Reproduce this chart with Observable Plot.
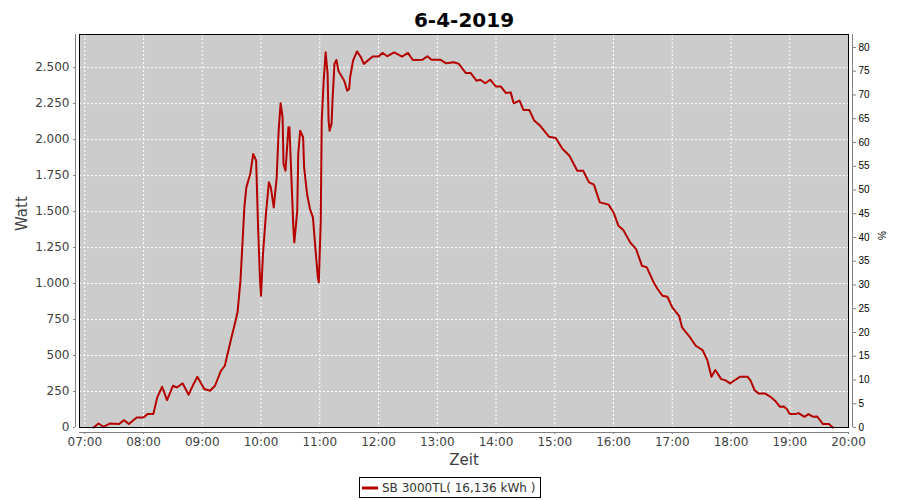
<!DOCTYPE html>
<html>
<head>
<meta charset="utf-8">
<script src="https://cdn.jsdelivr.net/npm/d3@7"></script>
<script src="https://cdn.jsdelivr.net/npm/@observablehq/plot@0.6"></script>
<style>
  body { margin: 0; background: #fff; }
  #wrap { position: relative; width: 900px; height: 500px; overflow: hidden; }
  #legend { position: absolute; left: 359px; top: 477px; width: 180px; height: 19px; border: 1px solid #000; background: #fff;
            font: 12px "DejaVu Sans", sans-serif; color: #333; display: flex; align-items: center; white-space: nowrap; }
  #legend svg { margin-left: 2px; margin-right: 4px; }
</style>
</head>
<body>
<div id="wrap"><div id="legend"></div></div>
<script>
const chartTitle = "6-4-2019";
const seriesName = "SB 3000TL( 16,136 kWh )";
const xLabel = "Zeit";
const yLabel = "Watt";
const y2Label = "%";

const times = ["07:09","07:14","07:19","07:26","07:35","07:40","07:45","07:53","08:00","08:04","08:10","08:14","08:19","08:24","08:30","08:34","08:40","08:46","08:51","08:55",
"09:02","09:08","09:13","09:19","09:23","09:29","09:34","09:36","09:39","09:41","09:43","09:45","09:49","09:52","09:55","09:57","09:59",
"10:00","10:02","10:05","10:08","10:10","10:13","10:16","10:18","10:20","10:22","10:23","10:25","10:28","10:29","10:31","10:33","10:34","10:37","10:38","10:40","10:43","10:44","10:47","10:50","10:53","10:56","10:58","10:59",
"11:01","11:02","11:04","11:06","11:08","11:09","11:10","11:12","11:13","11:15","11:17","11:19","11:23","11:25","11:28","11:30","11:31","11:34","11:38","11:42","11:45","11:54",
"12:00","12:04","12:09","12:16","12:24","12:30","12:35","12:45","12:50","12:54",
"13:03","13:09","13:17","13:22","13:29","13:34","13:40","13:44","13:49","13:54",
"14:00","14:05","14:10","14:15","14:18","14:24","14:28","14:34","14:39","14:45","14:54",
"15:01","15:08","15:15","15:23","15:29","15:35","15:40","15:46","15:55",
"16:00","16:05","16:10","16:17","16:23","16:29","16:34","16:41","16:45","16:50","16:55",
"17:00","17:07","17:10","17:17","17:24","17:31","17:36","17:40","17:44","17:50","17:54","17:59",
"18:03","18:09","18:17","18:20","18:24","18:28","18:35","18:40","18:45","18:50","18:54","18:57",
"19:00","19:06","19:09","19:15","19:19","19:24","19:28","19:34","19:40","19:44"];

const watts = [0,28,5,28,24,51,24,70,70,93,93,209,283,190,290,278,306,227,301,352,
267,255,290,394,429,603,742,800,1020,1275,1529,1668,1761,1900,1854,1390,1020,
915,1205,1483,1703,1668,1529,1738,2062,2252,2155,1831,1784,2085,2085,1738,1390,1286,1506,1900,2062,2016,1807,1622,1518,1460,1205,1043,1008,
1437,2132,2409,2606,2456,2132,2062,2108,2271,2526,2553,2479,2432,2409,2340,2352,2432,2548,2613,2572,2526,2577,
2577,2602,2579,2606,2577,2602,2553,2555,2579,2555,
2555,2530,2537,2526,2463,2463,2409,2416,2391,2416,
2368,2368,2324,2328,2252,2271,2206,2206,2132,2097,2020,
2011,1935,1888,1784,1784,1703,1687,1564,1548,
1494,1402,1372,1286,1240,1124,1112,1008,962,915,908,
834,776,695,637,568,538,464,352,399,336,329,306,
325,352,352,325,260,236,236,215,186,144,146,128,
93,93,100,74,93,74,76,24,24,0];

const xTickLabels = ["07:00","08:00","09:00","10:00","11:00","12:00","13:00","14:00","15:00","16:00","17:00","18:00","19:00","20:00"];
const yTicks = [0,250,500,750,1000,1250,1500,1750,2000,2250,2500];
const yTickLabels = ["0","250","500","750","1.000","1.250","1.500","1.750","2.000","2.250","2.500"];
const pctTicks = [0,5,10,15,20,25,30,35,40,45,50,55,60,65,70,75,80];
const pctTickLabels = ["0","5","10","15","20","25","30","35","40","45","50","55","60","65","70","75","80"];
const wattPerPercent = 33;   // 100 % = 3300 W
const yMax = 2730;
const xStart = "06:54.6";
const xEnd = "20:00";

const toMin = s => { const [h, m] = s.split(":"); return +h * 60 + parseFloat(m); };
const data = times.map((t, i) => ({ t: toMin(t), w: watts[i] }));
const xTicks = xTickLabels.map(toMin);
const X0 = toMin(xStart), X1 = toMin(xEnd);
const pctTickWatts = pctTicks.map(p => p * wattPerPercent);
const grid = { stroke: "white", strokeOpacity: 1, strokeWidth: 1, strokeDasharray: "2,2" };

const chart = Plot.plot({
  width: 900, height: 500,
  marginTop: 34, marginBottom: 73, marginLeft: 79, marginRight: 52,
  style: { fontFamily: "'DejaVu Sans', sans-serif", fontSize: "12px", color: "#404040", background: "transparent", overflow: "visible" },
  x: { domain: [X0, X1], axis: null, label: null },
  y: { domain: [0, yMax], axis: null, label: null },
  marks: [
    Plot.frame({ fill: "#cccccc", stroke: null }),
    Plot.gridX(xTicks.filter(v => v < X1), grid),
    Plot.gridY(yTicks.filter(v => v > 0), grid),
    Plot.line(data, { x: "t", y: "w", stroke: "#b40000", strokeWidth: 2 }),
    Plot.frame({ stroke: "black", strokeWidth: 1 }),
    Plot.ruleX([X0], { dx: -4, stroke: "#808080" }),
    Plot.ruleX([X1], { dx: 4, stroke: "#808080" }),
    Plot.ruleY([0], { dy: 5, stroke: "#808080" }),
    Plot.axisY(yTicks, { anchor: "left", label: null, dx: -4, tickSize: 2, tickPadding: 4, stroke: "#808080", fill: "#404040",
      fontSize: 12, tickFormat: v => yTickLabels[yTicks.indexOf(v)] }),
    Plot.axisX(xTicks, { anchor: "bottom", label: null, dy: 5, tickSize: 2, tickPadding: 3, stroke: "#808080", fill: "#404040",
      fontSize: 12, tickFormat: v => xTickLabels[xTicks.indexOf(v)] }),
    Plot.axisY(pctTickWatts, { anchor: "right", label: null, dx: 4, tickSize: 3, tickPadding: 3, stroke: "#808080", fill: "black",
      fontSize: 10, fontFamily: "'Liberation Sans', sans-serif", tickFormat: v => pctTickLabels[pctTickWatts.indexOf(v)] }),
    Plot.text([yLabel], { text: d => d, frameAnchor: "left", dx: -57.5, rotate: -90, fontSize: 15, fill: "#404040" }),
    Plot.text([y2Label], { text: d => d, frameAnchor: "right", dx: 34, rotate: -90, fontSize: 10, fontFamily: "'Liberation Sans', sans-serif", fill: "black" }),
    Plot.text([xLabel], { text: d => d, frameAnchor: "bottom", dy: 37.5, fontSize: 15, fill: "#404040" }),
    Plot.text([chartTitle], { text: d => d, frameAnchor: "top", dy: -21.5, fontSize: 20, fontWeight: "bold", fill: "black" })
  ]
});
chart.style.position = "absolute";
chart.style.left = "0";
chart.style.top = "0";
const wrap = document.getElementById("wrap");
wrap.insertBefore(chart, wrap.firstChild);

const legend = document.getElementById("legend");
legend.innerHTML = `<svg width="16" height="6"><line x1="0" y1="3" x2="16" y2="3" stroke="#b40000" stroke-width="3"/></svg><span></span>`;
legend.querySelector("span").textContent = seriesName;
</script>
</body>
</html>
